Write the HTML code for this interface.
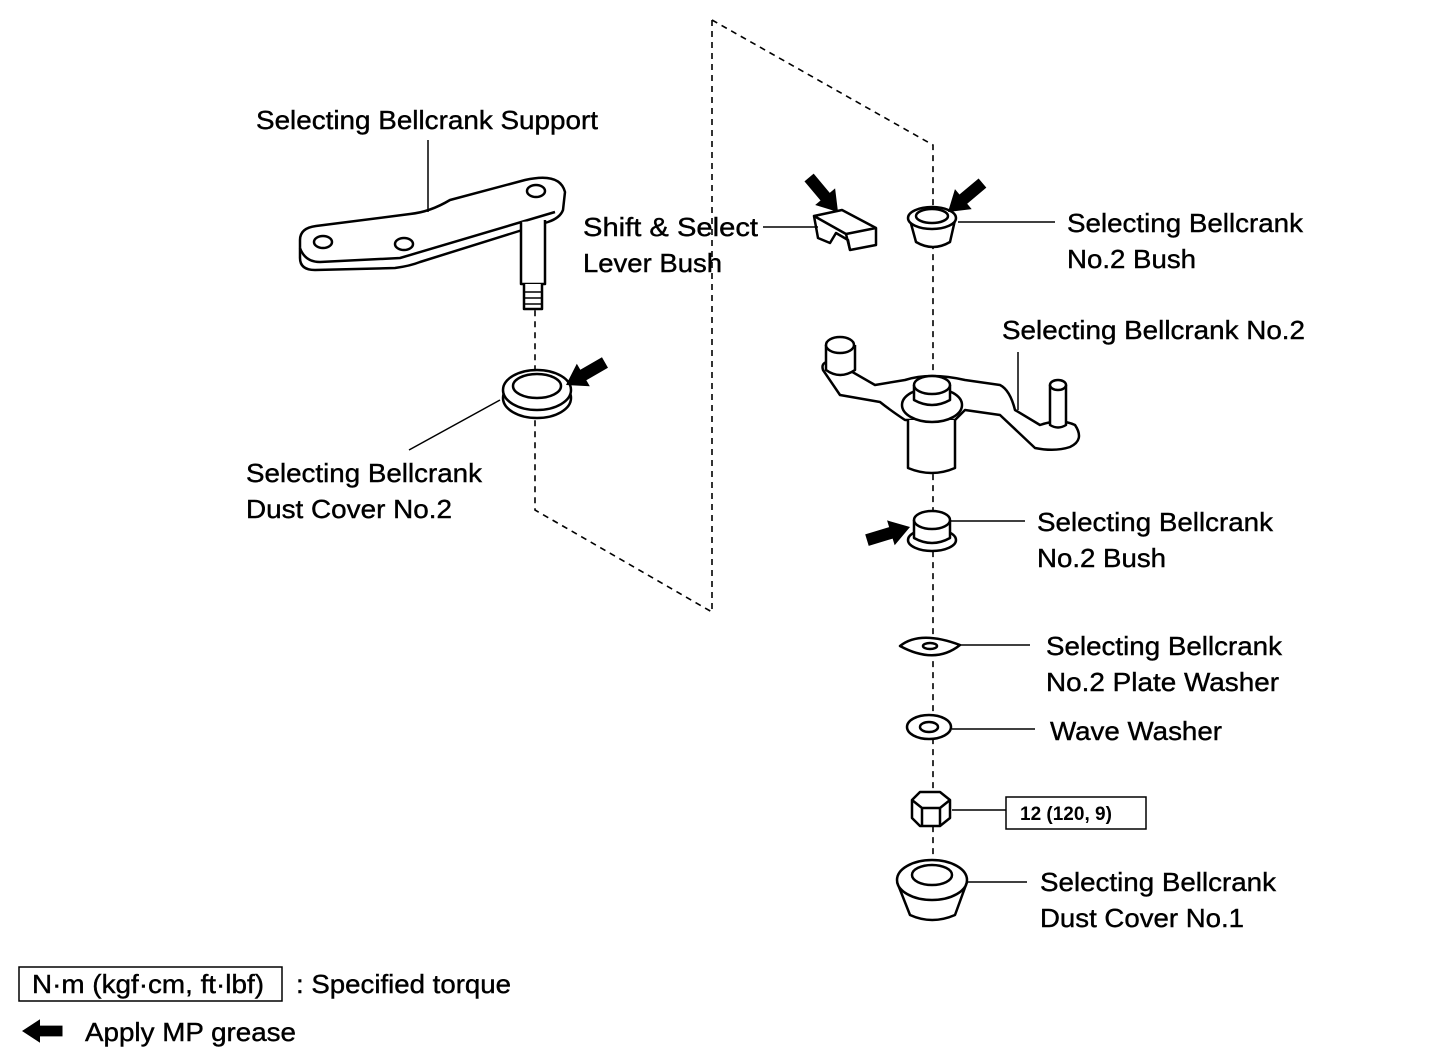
<!DOCTYPE html>
<html><head><meta charset="utf-8"><style>
html,body{margin:0;padding:0;background:#fff;}
svg{display:block}
text{font-family:"Liberation Sans",Arial,sans-serif;font-size:26px;fill:#000;stroke:#000;stroke-width:0.4}
</style></head><body>
<svg width="1440" height="1054" viewBox="0 0 1440 1054" xmlns="http://www.w3.org/2000/svg">
<defs>
<polygon id="ar" points="0,0 -20,-13 -20,-6 -45,-6 -45,6 -20,6 -20,13"/>
</defs>
<g fill="none" stroke="#000" stroke-width="1.6" stroke-dasharray="6,5">
<polyline points="712,20 933,145 933,870"/>
<polyline points="712,20 712,612 535,510 535,305"/>
</g>
<g fill="#fff" stroke="#000" stroke-width="2.5" stroke-linejoin="round">
<path d="M300,240 Q300,228 316,226 L410,214 Q430,212 450,200 L525,180 Q560,172 565,192 L563,210 Q560,218 548,222 L420,262 Q410,266 395,268 L315,270 Q300,270 300,258 Z"/>
<path d="M300,248 Q305,262 320,262 L400,258 L555,212"/>
<ellipse cx="323" cy="242" rx="9" ry="6"/><ellipse cx="404" cy="244" rx="9" ry="6"/><ellipse cx="536" cy="191" rx="9" ry="6"/>
<path d="M521,222 L521,284 L545,284 L545,220"/>
<path d="M524,284 L524,309 L542,309 L542,284"/>
<path d="M524,292 L542,292 M524,298 L542,298 M524,304 L542,304" stroke-width="1.5"/>
<ellipse cx="537" cy="398" rx="34" ry="20"/>
<ellipse cx="537" cy="390" rx="34" ry="20"/>
<ellipse cx="537" cy="386" rx="24" ry="12"/>
<path d="M814,216 L842,210 L876,228 L876,245 L850,250 L848,240 L836,233 L830,243 L818,238 Z"/>
<path d="M814,216 L846,234 L876,228 M846,234 L850,250"/>
<path d="M910,220 L916,242 Q933,252 950,242 L955,220"/>
<ellipse cx="932" cy="218" rx="24" ry="11"/>
<ellipse cx="932" cy="216" rx="16" ry="7"/>
<path d="M823,370 Q820,360 835,362 L875,385 L905,380 Q930,372 965,380 L1000,385 Q1010,390 1015,410 L1040,425 Q1060,418 1075,425 Q1085,440 1070,447 Q1055,452 1035,448 L1000,415 L965,410 L955,420 L905,420 Q890,410 880,402 L840,395 Z"/>
<path d="M826,345 L826,370 Q840,380 855,370 L855,345"/>
<ellipse cx="840" cy="345" rx="14" ry="8"/>
<path d="M1050,385 L1050,425 Q1058,430 1066,425 L1066,385"/>
<ellipse cx="1058" cy="385" rx="8" ry="5"/>
<path d="M908,420 L908,468 Q932,478 955,468 L955,420"/>
<ellipse cx="932" cy="405" rx="30" ry="17"/>
<path d="M914,385 L914,400 Q932,410 950,400 L950,385"/>
<ellipse cx="932" cy="385" rx="18" ry="9"/>
<ellipse cx="932" cy="540" rx="24" ry="11"/>
<path d="M914,520 L914,538 Q932,548 950,538 L950,520"/>
<ellipse cx="932" cy="520" rx="18" ry="9"/>
<path d="M900,646 Q920,630 960,645 Q935,665 900,646 Z"/>
<ellipse cx="930" cy="646" rx="7" ry="3"/>
<ellipse cx="929" cy="727" rx="22" ry="12"/>
<ellipse cx="929" cy="727" rx="9" ry="5"/>
<path d="M912,800 L920,792 L940,792 L950,800 L950,818 L940,826 L920,826 L912,818 Z"/>
<path d="M912,800 L922,808 L940,808 L950,800 M922,808 L922,826 M940,808 L940,826"/>
<path d="M897,882 L910,915 Q932,925 955,915 L967,882"/>
<ellipse cx="932" cy="880" rx="35" ry="20"/>
<ellipse cx="932" cy="875" rx="20" ry="10"/>
</g>
<g stroke="#000" stroke-width="1.5" fill="none">
<line x1="428" y1="140" x2="428" y2="212"/>
<line x1="763" y1="227" x2="818" y2="227"/>
<line x1="958" y1="222" x2="1055" y2="222"/>
<line x1="1018" y1="352" x2="1018" y2="410"/>
<line x1="409" y1="450" x2="500" y2="400"/>
<line x1="950" y1="521" x2="1025" y2="521"/>
<line x1="960" y1="645" x2="1030" y2="645"/>
<line x1="952" y1="729" x2="1035" y2="729"/>
<line x1="952" y1="810" x2="1006" y2="810"/>
<line x1="967" y1="882" x2="1027" y2="882"/>
<rect x="1006" y="797" width="140" height="32"/>
<rect x="19" y="967" width="263" height="34"/>
</g>
<g fill="#000">
<use href="#ar" transform="translate(566,385) rotate(150)"/>
<use href="#ar" transform="translate(838,212) rotate(50)"/>
<use href="#ar" transform="translate(948,212) rotate(140)"/>
<use href="#ar" transform="translate(910,527) rotate(-17)"/>
<use href="#ar" transform="translate(22,1031) rotate(180) scale(0.9)"/>
</g>
<g>
<text x="256" y="129" textLength="342" lengthAdjust="spacingAndGlyphs">Selecting Bellcrank Support</text>
<text x="583" y="236" textLength="175" lengthAdjust="spacingAndGlyphs">Shift &amp; Select</text>
<text x="583" y="272" textLength="139" lengthAdjust="spacingAndGlyphs">Lever Bush</text>
<text x="1067" y="232" textLength="236" lengthAdjust="spacingAndGlyphs">Selecting Bellcrank</text>
<text x="1067" y="268" textLength="129" lengthAdjust="spacingAndGlyphs">No.2 Bush</text>
<text x="1002" y="339" textLength="303" lengthAdjust="spacingAndGlyphs">Selecting Bellcrank No.2</text>
<text x="246" y="482" textLength="236" lengthAdjust="spacingAndGlyphs">Selecting Bellcrank</text>
<text x="246" y="518" textLength="206" lengthAdjust="spacingAndGlyphs">Dust Cover No.2</text>
<text x="1037" y="531" textLength="236" lengthAdjust="spacingAndGlyphs">Selecting Bellcrank</text>
<text x="1037" y="567" textLength="129" lengthAdjust="spacingAndGlyphs">No.2 Bush</text>
<text x="1046" y="655" textLength="236" lengthAdjust="spacingAndGlyphs">Selecting Bellcrank</text>
<text x="1046" y="691" textLength="233" lengthAdjust="spacingAndGlyphs">No.2 Plate Washer</text>
<text x="1050" y="740" textLength="172" lengthAdjust="spacingAndGlyphs">Wave Washer</text>
<text x="1020" y="820" style="font-size:19px;font-weight:bold;stroke-width:0">12 (120, 9)</text>
<text x="1040" y="891" textLength="236" lengthAdjust="spacingAndGlyphs">Selecting Bellcrank</text>
<text x="1040" y="927" textLength="204" lengthAdjust="spacingAndGlyphs">Dust Cover No.1</text>
<text x="32" y="993" textLength="232" lengthAdjust="spacingAndGlyphs">N·m (kgf·cm, ft·lbf)</text>
<text x="296" y="993" textLength="215" lengthAdjust="spacingAndGlyphs">: Specified torque</text>
<text x="85" y="1041" textLength="211" lengthAdjust="spacingAndGlyphs">Apply MP grease</text>
</g>
</svg>
</body></html>
